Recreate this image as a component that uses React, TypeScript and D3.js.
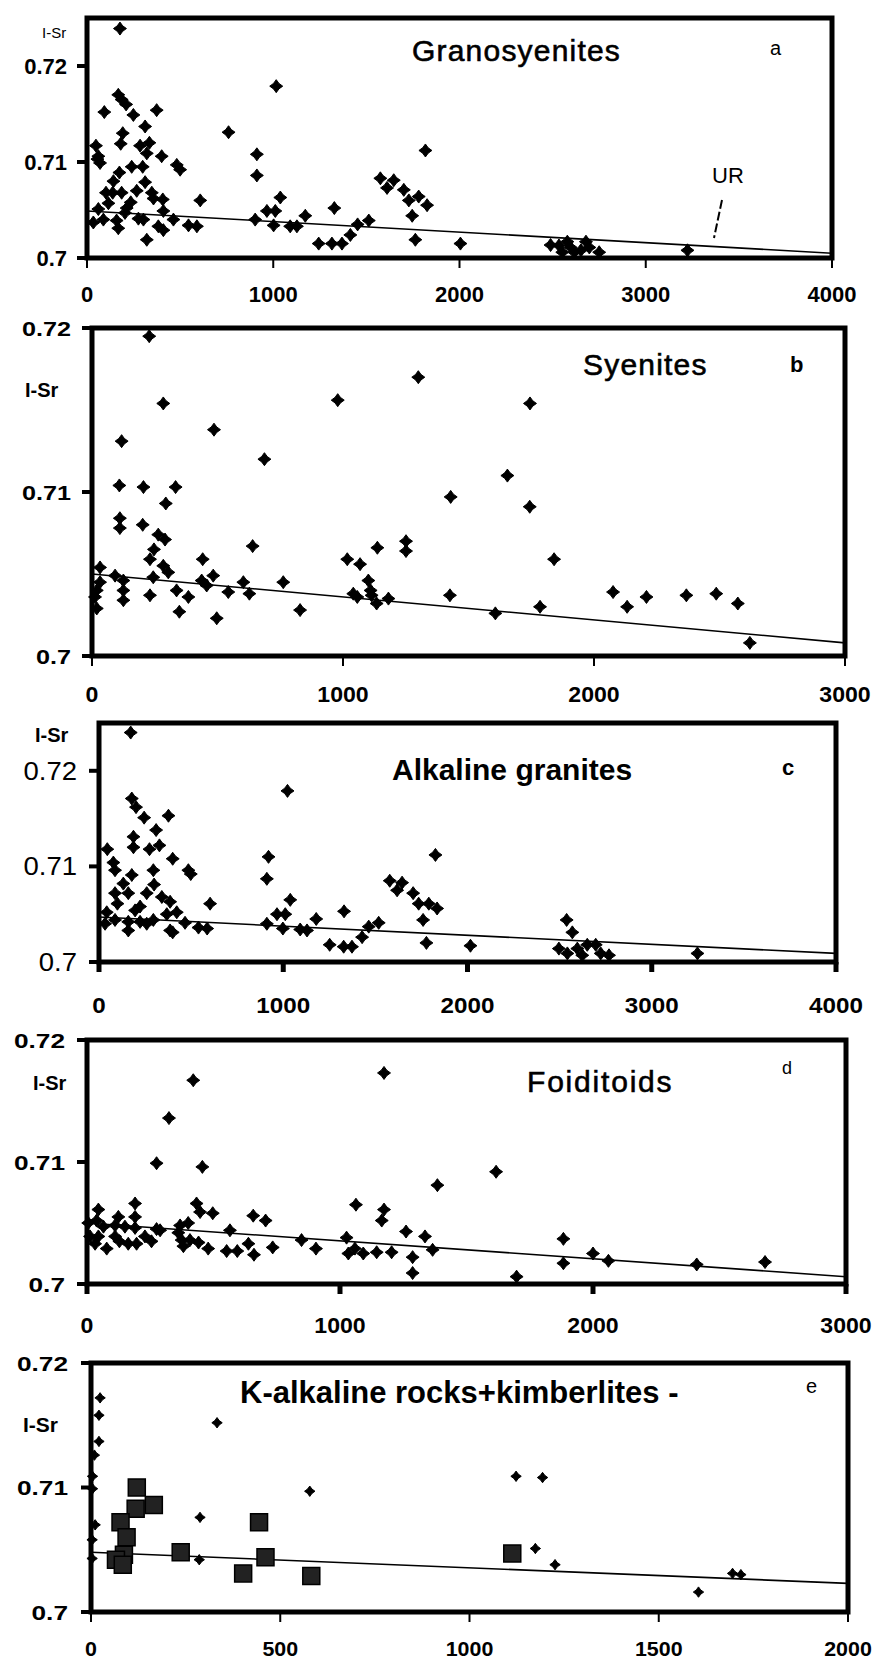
import React from 'react';
import * as d3 from 'd3';

type Pt = [number, number];

// tick values shared by the panels
const yTicks = [0.7, 0.71, 0.72];
const yTickLabels = ['0.7', '0.71', '0.72'];
const xTicks4000 = [0, 1000, 2000, 3000, 4000];
const xTicks3000 = [0, 1000, 2000, 3000];
const xTicks2000 = [0, 500, 1000, 1500, 2000];

// a - Granosyenites  [age, I-Sr]
const granosyenites: Pt[] = [
  [177, 0.7239], [48, 0.7117], [61, 0.7106], [70, 0.7099], [56, 0.7103], [93, 0.7152], [168, 0.717],
  [186, 0.7165], [210, 0.716], [249, 0.7149], [192, 0.713], [181, 0.7119], [312, 0.7137], [374, 0.7154],
  [285, 0.7117], [335, 0.712], [321, 0.7109], [401, 0.7106], [240, 0.7095], [299, 0.7095], [482, 0.7097],
  [500, 0.7092], [174, 0.7089], [142, 0.708], [312, 0.7079], [102, 0.7068], [138, 0.7068], [186, 0.7068],
  [267, 0.707], [348, 0.7068], [357, 0.7062], [407, 0.7061], [115, 0.7057], [235, 0.7058], [608, 0.706],
  [61, 0.7051], [213, 0.7052], [410, 0.7049], [34, 0.7037], [88, 0.704], [159, 0.7039], [168, 0.7031],
  [276, 0.7041], [303, 0.704], [464, 0.704], [383, 0.7033], [410, 0.7029], [545, 0.7034], [590, 0.7033],
  [321, 0.7019], [204, 0.7047], [760, 0.7131], [912, 0.7108], [912, 0.7086], [1016, 0.7179], [1038, 0.7063],
  [903, 0.704], [966, 0.7049], [1011, 0.7049], [1002, 0.7034], [1091, 0.7033], [1127, 0.7033], [1172, 0.7044],
  [1244, 0.7015], [1315, 0.7015], [1369, 0.7015], [1328, 0.7052], [1414, 0.7024], [1453, 0.7035], [1513, 0.7039],
  [1575, 0.7083], [1611, 0.7073], [1647, 0.7081], [1701, 0.7071], [1728, 0.706], [1781, 0.7064], [1826, 0.7055],
  [1746, 0.7044], [1763, 0.7019], [1817, 0.7112], [2005, 0.7015], [2489, 0.70135], [2534, 0.7013], [2552, 0.7006],
  [2579, 0.7017], [2616, 0.7006], [2652, 0.7008], [2679, 0.7017], [2697, 0.7011], [2750, 0.7006], [2597, 0.7011],
  [3224, 0.7008],
];
const granosyenitesTrend: Pt[] = [[0, 0.7049], [4000, 0.7005]];

// b - Syenites
const syenites: Pt[] = [
  [228, 0.7195], [284, 0.7154], [118, 0.7131], [486, 0.7138], [687, 0.712], [979, 0.7156], [1300, 0.717],
  [109, 0.7104], [205, 0.7103], [333, 0.7103], [294, 0.7093], [111, 0.7084], [111, 0.7078], [202, 0.708],
  [264, 0.7074], [291, 0.7071], [247, 0.7065], [231, 0.7059], [441, 0.7059], [640, 0.7067], [32, 0.7054],
  [284, 0.7055], [304, 0.7051], [92, 0.7049], [244, 0.7048], [483, 0.7049], [437, 0.7046], [457, 0.7043],
  [603, 0.7045], [762, 0.7045], [32, 0.7045], [19, 0.704], [12, 0.7036], [19, 0.7029], [125, 0.7046],
  [125, 0.704], [125, 0.7034], [231, 0.7037], [337, 0.704], [384, 0.7036], [348, 0.7027], [497, 0.7023],
  [543, 0.7039], [627, 0.7038], [829, 0.7028], [1017, 0.7059], [1068, 0.7056], [1137, 0.7066], [1251, 0.707],
  [1251, 0.7064], [1041, 0.7038], [1057, 0.7036], [1101, 0.7046], [1110, 0.704], [1114, 0.7037], [1134, 0.7032],
  [1181, 0.7035], [1745, 0.7154], [1655, 0.711], [1429, 0.7097], [1744, 0.7091], [1841, 0.7059], [1426, 0.7037],
  [1607, 0.7026], [1785, 0.703], [2076, 0.7039], [2132, 0.703], [2209, 0.7036], [2368, 0.7037], [2487, 0.7038],
  [2573, 0.7032], [2621, 0.7008],
];
const syenitesTrend: Pt[] = [[0, 0.705], [3000, 0.7008]];

// c - Alkaline granites
const alkalineGranites: Pt[] = [
  [172, 0.724], [178, 0.7171], [201, 0.7162], [245, 0.7151], [377, 0.7153], [310, 0.7138], [187, 0.7131],
  [187, 0.712], [274, 0.7118], [328, 0.7122], [45, 0.7118], [78, 0.7104], [87, 0.7096], [400, 0.7108],
  [295, 0.7096], [485, 0.7096], [498, 0.7092], [178, 0.7091], [132, 0.7082], [299, 0.7081], [87, 0.7072],
  [159, 0.7072], [259, 0.7072], [341, 0.7068], [100, 0.7061], [223, 0.7058], [386, 0.7063], [603, 0.7061],
  [42, 0.7052], [196, 0.7054], [422, 0.7052], [33, 0.704], [87, 0.7044], [159, 0.7042], [223, 0.7042],
  [295, 0.7044], [368, 0.705], [159, 0.7033], [259, 0.704], [386, 0.7033], [467, 0.7041], [540, 0.7036],
  [587, 0.7035], [400, 0.7031], [1023, 0.7179], [920, 0.711], [911, 0.7087], [1038, 0.7065], [966, 0.705],
  [1011, 0.705], [911, 0.704], [998, 0.7035], [1092, 0.7034], [1129, 0.7033], [1179, 0.7045], [1252, 0.7018],
  [1328, 0.7016], [1373, 0.7016], [1330, 0.7053], [1428, 0.7026], [1464, 0.7037], [1518, 0.7041], [1578, 0.7085],
  [1618, 0.7075], [1645, 0.7083], [1705, 0.7072], [1735, 0.7061], [1790, 0.7061], [1759, 0.7044], [1777, 0.702],
  [1826, 0.7112], [1835, 0.7056], [2016, 0.7017], [2538, 0.7044], [2569, 0.7031], [2496, 0.7014], [2542, 0.7009],
  [2596, 0.7014], [2650, 0.7018], [2696, 0.7018], [2723, 0.7009], [2768, 0.7007], [2623, 0.7007], [3248, 0.7009],
];
const alkalineGranitesTrend: Pt[] = [[0, 0.7047], [4000, 0.7009]];

// d - Foiditoids
const foiditoids: Pt[] = [
  [420, 0.7167], [324, 0.7136], [275, 0.7099], [456, 0.7096], [1174, 0.7173], [433, 0.7066], [447, 0.7059],
  [497, 0.7058], [190, 0.7066], [45, 0.7061], [124, 0.7055], [190, 0.7055], [657, 0.7056], [706, 0.7052],
  [5, 0.705], [38, 0.7052], [65, 0.7047], [111, 0.7048], [150, 0.7047], [190, 0.7046], [275, 0.7045],
  [368, 0.7048], [400, 0.705], [12, 0.7039], [32, 0.7033], [45, 0.7039], [78, 0.7029], [111, 0.7039],
  [128, 0.7035], [163, 0.7033], [196, 0.7033], [229, 0.7039], [255, 0.7035], [289, 0.7044], [361, 0.7042],
  [374, 0.7036], [407, 0.7036], [441, 0.7034], [479, 0.7029], [381, 0.7031], [565, 0.7044], [552, 0.7027],
  [594, 0.7027], [638, 0.7033], [660, 0.7024], [734, 0.703], [848, 0.7036], [905, 0.7029], [1026, 0.7038],
  [1063, 0.7065], [1033, 0.7025], [1059, 0.7029], [1092, 0.7025], [1145, 0.7026], [1204, 0.7026], [1174, 0.7061],
  [1165, 0.7052], [1261, 0.7043], [1287, 0.7022], [1287, 0.7009], [1336, 0.7039], [1366, 0.7028], [1617, 0.7092],
  [1385, 0.7081], [1883, 0.7037], [1883, 0.7017], [1698, 0.7006], [2000, 0.7025], [2061, 0.7019], [2410, 0.7016],
  [2680, 0.7018],
];
const foiditoidsTrend: Pt[] = [[0, 0.705], [3000, 0.7006]];

// e - K-alkaline rocks (diamonds) + kimberlites (squares)
const kAlkaline: Pt[] = [
  [24, 0.7172], [21, 0.7158], [21, 0.7137], [9, 0.7126], [4, 0.7109], [4, 0.7099], [11, 0.707], [3, 0.7058],
  [3, 0.7043], [333, 0.7152], [578, 0.7097], [288, 0.7076], [286, 0.7042], [1123, 0.7109], [1193, 0.7108],
  [1174, 0.7051], [1226, 0.7038], [1605, 0.7016], [1695, 0.7031], [1717, 0.703],
];
const kimberlites: Pt[] = [
  [121, 0.71], [118, 0.7083], [166, 0.7086], [78, 0.7072], [94, 0.706], [87, 0.7046], [66, 0.7042],
  [84, 0.7038], [237, 0.7048], [444, 0.7072], [461, 0.7044], [402, 0.7031], [582, 0.7029], [1113, 0.7047],
];
const kAlkalineTrend: Pt[] = [[0, 0.7048], [2000, 0.7023]];

type LabelStyle = { size: number; weight: string; sx: number };

type PanelSpec = {
  key: string;
  left: number; right: number; top: number; bottom: number;
  xMax: number; yMax: number; xTicks: number[];
  points: Pt[]; squares?: Pt[]; trend: Pt[];
  markerR: number;
  yLab: LabelStyle; xLab: LabelStyle; xLabBase: number; yLabGap: number;
  xTickW: number;
  title: string; titleX: number; titleY: number; titleSize: number; titleWeight: string; titleSpacing: number;
  letter: string; letterX: number; letterY: number; letterSize: number; letterWeight: string;
  isr: { x: number; y: number; size: number; weight: string };
};

const panels: PanelSpec[] = [
  {
    key: 'a', left: 87, right: 832, top: 18, bottom: 258, xMax: 4000, yMax: 0.725, xTicks: xTicks4000,
    points: granosyenites, trend: granosyenitesTrend, markerR: 6.5,
    yLab: { size: 22, weight: 'bold', sx: 1 }, xLab: { size: 22, weight: 'bold', sx: 1 }, xLabBase: 302, yLabGap: 20,
    xTickW: 2,
    title: 'Granosyenites', titleX: 412, titleY: 61, titleSize: 30, titleWeight: 'normal', titleSpacing: 1.2,
    letter: 'a', letterX: 770, letterY: 55, letterSize: 20, letterWeight: 'normal',
    isr: { x: 42, y: 38, size: 15, weight: 'normal' },
  },
  {
    key: 'b', left: 92, right: 845, top: 328, bottom: 656, xMax: 3000, yMax: 0.72, xTicks: xTicks3000,
    points: syenites, trend: syenitesTrend, markerR: 6.5,
    yLab: { size: 21, weight: 'bold', sx: 1.2 }, xLab: { size: 22, weight: 'bold', sx: 1.05 }, xLabBase: 702, yLabGap: 21,
    xTickW: 2,
    title: 'Syenites', titleX: 583, titleY: 375, titleSize: 30, titleWeight: 'normal', titleSpacing: 1.2,
    letter: 'b', letterX: 790, letterY: 372, letterSize: 22, letterWeight: 'bold',
    isr: { x: 25, y: 397, size: 20, weight: 'bold' },
  },
  {
    key: 'c', left: 99, right: 836, top: 723, bottom: 962, xMax: 4000, yMax: 0.725, xTicks: xTicks4000,
    points: alkalineGranites, trend: alkalineGranitesTrend, markerR: 6.5,
    yLab: { size: 25, weight: 'normal', sx: 1.1 }, xLab: { size: 22, weight: 'bold', sx: 1.1 }, xLabBase: 1013, yLabGap: 22,
    xTickW: 5,
    title: 'Alkaline granites', titleX: 392, titleY: 780, titleSize: 30, titleWeight: 'bold', titleSpacing: 0,
    letter: 'c', letterX: 782, letterY: 775, letterSize: 22, letterWeight: 'bold',
    isr: { x: 35, y: 742, size: 20, weight: 'bold' },
  },
  {
    key: 'd', left: 87, right: 846, top: 1040, bottom: 1284, xMax: 3000, yMax: 0.72, xTicks: xTicks3000,
    points: foiditoids, trend: foiditoidsTrend, markerR: 6.5,
    yLab: { size: 21, weight: 'bold', sx: 1.25 }, xLab: { size: 22, weight: 'bold', sx: 1.05 }, xLabBase: 1333, yLabGap: 22,
    xTickW: 5,
    title: 'Foiditoids', titleX: 527, titleY: 1092, titleSize: 30, titleWeight: 'normal', titleSpacing: 1.8,
    letter: 'd', letterX: 782, letterY: 1074, letterSize: 18, letterWeight: 'normal',
    isr: { x: 33, y: 1090, size: 20, weight: 'bold' },
  },
  {
    key: 'e', left: 91, right: 848, top: 1363, bottom: 1612, xMax: 2000, yMax: 0.72, xTicks: xTicks2000,
    points: kAlkaline, squares: kimberlites, trend: kAlkalineTrend, markerR: 5.2,
    yLab: { size: 21, weight: 'bold', sx: 1.25 }, xLab: { size: 21, weight: 'bold', sx: 1.02 }, xLabBase: 1656, yLabGap: 23,
    xTickW: 2,
    title: 'K-alkaline rocks+kimberlites -', titleX: 240, titleY: 1403, titleSize: 31, titleWeight: 'bold', titleSpacing: 0,
    letter: 'e', letterX: 806, letterY: 1393, letterSize: 20, letterWeight: 'normal',
    isr: { x: 23, y: 1432, size: 21, weight: 'bold' },
  },
];

const FONT = 'Arial, "Liberation Sans", Helvetica, sans-serif';

// Excel-like diamond marker with slightly pinched sides
function diamondPath(r: number): string {
  const k = r * 0.42;
  const shape: Pt[] = [
    [0, -r], [k, -k], [r, 0], [k, k], [0, r], [-k, k], [-r, 0], [-k, -k],
  ];
  return d3.line().curve(d3.curveLinearClosed)(shape) || '';
}

function Panel({ p }: { p: PanelSpec }) {
  const x = d3.scaleLinear().domain([0, p.xMax]).range([p.left, p.right]);
  const y = d3.scaleLinear().domain([0.7, p.yMax]).range([p.bottom, p.top]);
  const line = d3.line<Pt>().x((d) => x(d[0])).y((d) => y(d[1]));
  const diamond = diamondPath(p.markerR);
  const square = d3.symbol().type(d3.symbolSquare).size(17 * 17)() as string;

  return (
    <g>
      <path d={line(p.trend) || ''} fill="none" stroke="#000" strokeWidth={1.6} />
      {p.points.map((d, i) => (
        <path key={i} d={diamond} transform={`translate(${x(d[0])},${y(d[1])})`} fill="#000" stroke="#000" strokeWidth={1} />
      ))}
      {(p.squares || []).map((d, i) => (
        <path key={'s' + i} d={square} transform={`translate(${x(d[0])},${y(d[1])})`} fill="#222" stroke="#000" strokeWidth={1.5} />
      ))}
      <rect x={p.left} y={p.top} width={p.right - p.left} height={p.bottom - p.top} fill="none" stroke="#000" strokeWidth={5} />
      {yTicks.map((t, i) => (
        <g key={'y' + t}>
          <line x1={p.left - 10} x2={p.left} y1={y(t)} y2={y(t)} stroke="#000" strokeWidth={4} />
          <text
            transform={`translate(${p.left - p.yLabGap},${y(t) + p.yLab.size * 0.36}) scale(${p.yLab.sx},1)`}
            textAnchor="end" fontSize={p.yLab.size} fontWeight={p.yLab.weight} fontFamily={FONT}
          >{yTickLabels[i]}</text>
        </g>
      ))}
      {p.xTicks.map((t) => (
        <g key={'x' + t}>
          <line x1={x(t)} x2={x(t)} y1={p.bottom} y2={p.bottom + 10} stroke="#000" strokeWidth={p.xTickW} />
          <text
            transform={`translate(${x(t)},${p.xLabBase}) scale(${p.xLab.sx},1)`}
            textAnchor="middle" fontSize={p.xLab.size} fontWeight={p.xLab.weight} fontFamily={FONT}
          >{t}</text>
        </g>
      ))}
      <text x={p.titleX} y={p.titleY} fontSize={p.titleSize} fontWeight={p.titleWeight} letterSpacing={p.titleSpacing}
        fontFamily={FONT} stroke={p.titleWeight === 'normal' ? '#000' : 'none'} strokeWidth={0.6}>{p.title}</text>
      <text x={p.letterX} y={p.letterY} fontSize={p.letterSize} fontWeight={p.letterWeight} fontFamily={FONT}>{p.letter}</text>
      <text x={p.isr.x} y={p.isr.y} fontSize={p.isr.size} fontWeight={p.isr.weight} fontFamily={FONT}>I-Sr</text>
    </g>
  );
}

export default function App() {
  return (
    <svg width={874} height={1663} style={{ position: 'absolute', left: 0, top: 0, background: '#fff' }}>
      <rect width={874} height={1663} fill="#fff" />
      {panels.map((p) => <Panel key={p.key} p={p} />)}
      {/* UR pointer in panel a */}
      <text x={712} y={183} fontSize={22} fontFamily={FONT}>UR</text>
      <line x1={722} y1={200} x2={714} y2={238} stroke="#000" strokeWidth={2} strokeDasharray="9,3" />
    </svg>
  );
}
